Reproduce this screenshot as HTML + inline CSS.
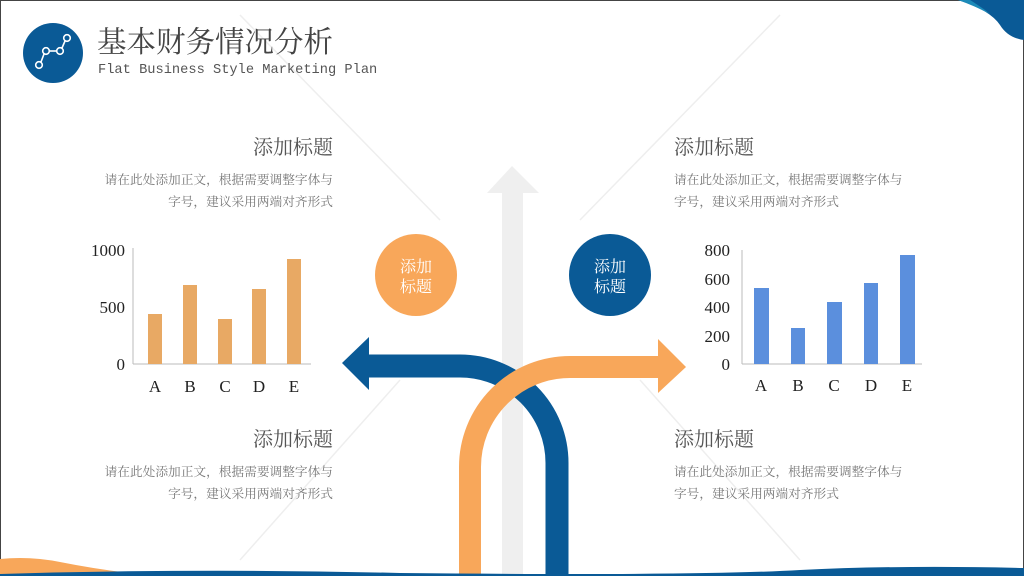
<!DOCTYPE html>
<html><head><meta charset="utf-8"><style>
body{margin:0;width:1024px;height:576px;overflow:hidden;background:#fff;font-family:"Liberation Serif","Noto Serif CJK SC",serif}
svg{display:block}
</style></head><body>
<svg width="1024" height="576" viewBox="0 0 1024 576" xmlns="http://www.w3.org/2000/svg">
<rect x="0.5" y="0.5" width="1023" height="575" fill="#fff" stroke="#444" stroke-width="1"/>
<g stroke="#eee" stroke-width="1.5">
<line x1="240" y1="15" x2="440" y2="220"/>
<line x1="780" y1="15" x2="580" y2="220"/>
<line x1="400" y1="380" x2="240" y2="560"/>
<line x1="640" y1="380" x2="800" y2="560"/>
</g>
<path d="M958 0 L1024 0 L1024 40 Q1008 38 1000 25 Q990 10 958 0Z" fill="#0a5a96"/>
<path d="M958 0 Q975 6 990 14 L985 10 Q975 3 970 0Z" fill="#1c8ab8"/>
<circle cx="53" cy="53" r="30" fill="#0a5a96"/>
<g stroke="#fff" stroke-width="1.6" fill="none">
<circle cx="39" cy="65" r="3.3"/><circle cx="46" cy="51" r="3.3"/><circle cx="60" cy="51" r="3.3"/><circle cx="67" cy="38" r="3.3"/>
<line x1="41" y1="62" x2="44" y2="54"/><line x1="49" y1="51" x2="57" y2="51"/><line x1="62" y1="48" x2="65" y2="41"/>
</g>
<text x="97" y="52" font-size="29.5" fill="#444">基本财务情况分析</text>
<text x="98" y="73" font-size="13.7" fill="#555" font-family="Liberation Mono,monospace">Flat Business Style Marketing Plan</text>
<rect x="502" y="192" width="21" height="384" fill="#efefef"/>
<polygon points="487,193 512,166 539,193" fill="#efefef"/>
<path d="M369 366 L460 366 A97 97 0 0 1 557 463 L557 576" fill="none" stroke="#0a5a96" stroke-width="23"/>
<polygon points="342,363 369,337 369,390" fill="#0a5a96"/>
<path d="M470 576 L470 467 A100 100 0 0 1 570 367 L658 367" fill="none" stroke="#f8a75a" stroke-width="22"/>
<polygon points="686,367 658,339 658,393" fill="#f8a75a"/>
<circle cx="416" cy="275" r="41" fill="#f8a75a"/>
<circle cx="610" cy="275" r="41" fill="#0a5a96"/>
<g font-size="16" fill="#fff" text-anchor="middle">
<text x="416" y="272">添加</text><text x="416" y="292">标题</text>
<text x="610" y="272">添加</text><text x="610" y="292">标题</text>
</g>
<g fill="#555">
<text x="333" y="154" font-size="20" text-anchor="end">添加标题</text>
<text x="333" y="184" font-size="12.7" text-anchor="end" fill="#777">请在此处添加正文，根据需要调整字体与</text>
<text x="333" y="206" font-size="12.7" text-anchor="end" fill="#777">字号，建议采用两端对齐形式</text>
<text x="333" y="446" font-size="20" text-anchor="end">添加标题</text>
<text x="333" y="476" font-size="12.7" text-anchor="end" fill="#777">请在此处添加正文，根据需要调整字体与</text>
<text x="333" y="498" font-size="12.7" text-anchor="end" fill="#777">字号，建议采用两端对齐形式</text>
<text x="674" y="154" font-size="20">添加标题</text>
<text x="674" y="184" font-size="12.7" fill="#777">请在此处添加正文，根据需要调整字体与</text>
<text x="674" y="206" font-size="12.7" fill="#777">字号，建议采用两端对齐形式</text>
<text x="674" y="446" font-size="20">添加标题</text>
<text x="674" y="476" font-size="12.7" fill="#777">请在此处添加正文，根据需要调整字体与</text>
<text x="674" y="498" font-size="12.7" fill="#777">字号，建议采用两端对齐形式</text>
</g>
<g stroke="#bbb" stroke-width="1"><line x1="133" y1="248" x2="133" y2="364"/><line x1="133" y1="364" x2="311" y2="364"/></g>
<g fill="#e8a964">
<rect x="148" y="314" width="14" height="50"/><rect x="183" y="285" width="14" height="79"/><rect x="218" y="319" width="14" height="45"/><rect x="252" y="289" width="14" height="75"/><rect x="287" y="259" width="14" height="105"/>
</g>
<g font-size="17" fill="#222" text-anchor="end"><text x="125" y="256">1000</text><text x="125" y="313">500</text><text x="125" y="370">0</text></g>
<g font-size="17" fill="#222" text-anchor="middle"><text x="155" y="392">A</text><text x="190" y="392">B</text><text x="225" y="392">C</text><text x="259" y="392">D</text><text x="294" y="392">E</text></g>
<g stroke="#bbb" stroke-width="1"><line x1="742" y1="250" x2="742" y2="364"/><line x1="742" y1="364" x2="922" y2="364"/></g>
<g fill="#5b8fdd">
<rect x="754" y="288" width="15" height="76"/><rect x="791" y="328" width="14" height="36"/><rect x="827" y="302" width="15" height="62"/><rect x="864" y="283" width="14" height="81"/><rect x="900" y="255" width="15" height="109"/>
</g>
<g font-size="17" fill="#222" text-anchor="end"><text x="730" y="256">800</text><text x="730" y="285">600</text><text x="730" y="313">400</text><text x="730" y="342">200</text><text x="730" y="370">0</text></g>
<g font-size="17" fill="#222" text-anchor="middle"><text x="761" y="391">A</text><text x="798" y="391">B</text><text x="834" y="391">C</text><text x="871" y="391">D</text><text x="907" y="391">E</text></g>
<path d="M0 559 Q30 556 60 562 Q110 572 160 576 L0 576Z" fill="#f8a75a"/>
<path d="M0 574 Q200 568 400 573 Q700 576 800 570 Q900 565 1024 568 L1024 576 L0 576Z" fill="#0a5a96"/>
</svg>
</body></html>
